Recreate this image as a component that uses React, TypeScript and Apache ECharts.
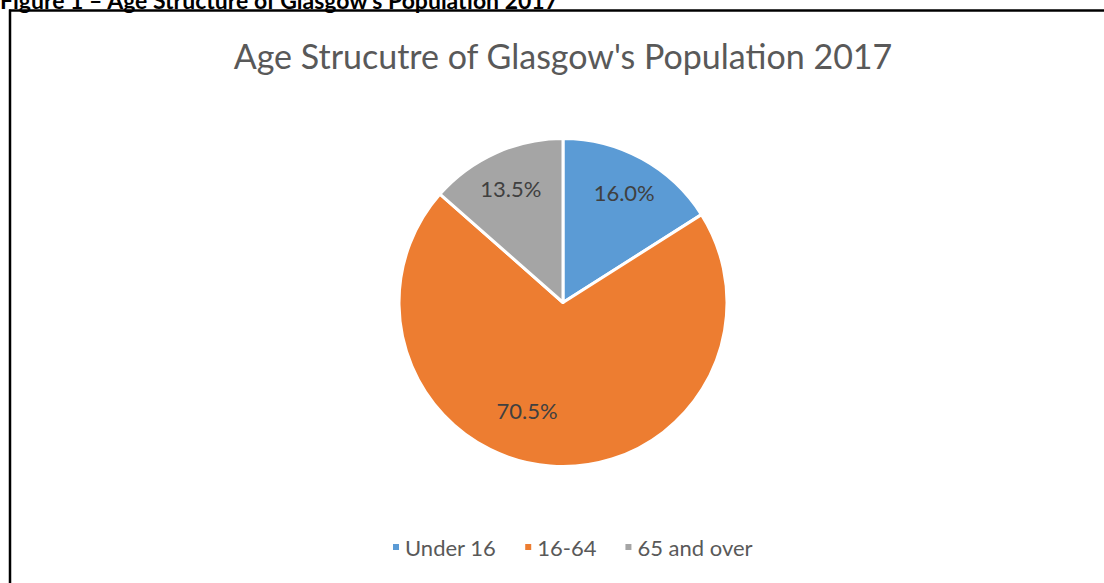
import React, { useEffect, useRef } from "react";
import * as echarts from "echarts";

const categories = ["Under 16", "16-64", "65 and over"];
const shares = [16.0, 70.5, 13.5];
const colors = ["#5B9BD5", "#ED7D31", "#A5A5A5"];
const chartTitle = "Age Strucutre of Glasgow's Population 2017";
const figureCaption = "Figure 1 \u2013 Age Structure of Glasgow's Population 2017";

export default function App() {
  const ref = useRef<HTMLDivElement>(null);
  useEffect(() => {
    if (!ref.current) return;
    const chart = echarts.init(ref.current, undefined, { renderer: "svg" });
    const font = "Lato, 'Open Sans', sans-serif";
    const pieData = categories.map((name, i) => ({
      name,
      value: shares[i],
      itemStyle: { color: colors[i] },
    }));
    const labelData = categories.map((name, i) => ({
      name,
      value: shares[i],
      label: i === 1 ? { offset: [-26, -20] } : {},
    }));
    chart.setOption({
      animation: false,
      backgroundColor: "#ffffff",
      title: {
        text: chartTitle,
        left: 558,
        textAlign: "center",
        top: 33,
        textStyle: { fontFamily: font, fontSize: 34, fontWeight: "normal", color: "#595959" },
      },
      legend: {
        data: categories,
        top: 531,
        left: 386,
        icon: "rect",
        itemWidth: 8,
        itemHeight: 8,
        itemGap: 27,
        textStyle: { fontFamily: font, fontSize: 22, color: "#595959" },
      },
      graphic: [
        {
          type: "text",
          left: 0,
          top: -12,
          style: { text: figureCaption, fontFamily: font, fontSize: 23, fontWeight: "bold", fill: "#000" },
        },
        {
          type: "line",
          shape: { x1: 9, y1: 10.5, x2: 1104, y2: 10.5 },
          style: { stroke: "#000", lineWidth: 2.5 },
        },
        {
          type: "line",
          shape: { x1: 10, y1: 9.5, x2: 10, y2: 583 },
          style: { stroke: "#000", lineWidth: 2.5 },
        },
      ],
      series: [
        {
          type: "pie",
          center: [563, 302.5],
          radius: [0, 164],
          startAngle: 90,
          clockwise: true,
          data: pieData,
          itemStyle: { borderColor: "#ffffff", borderWidth: 3 },
          label: { show: false },
          labelLine: { show: false },
          emphasis: { disabled: true },
        },
        {
          type: "pie",
          center: [563, 304],
          radius: [84, 164],
          startAngle: 90,
          clockwise: true,
          silent: true,
          data: labelData,
          itemStyle: { color: "rgba(0,0,0,0)" },
          label: {
            show: true,
            position: "inside",
            formatter: (p: any) => p.value.toFixed(1) + "%",
            fontFamily: font,
            fontSize: 22,
            color: "#404040",
          },
          labelLine: { show: false },
          emphasis: { disabled: true },
        },
      ],
    });
    return () => chart.dispose();
  }, []);
  return (
    <div
      ref={ref}
      style={{ position: "fixed", left: 0, top: 0, width: 1104, height: 583 }}
    />
  );
}
